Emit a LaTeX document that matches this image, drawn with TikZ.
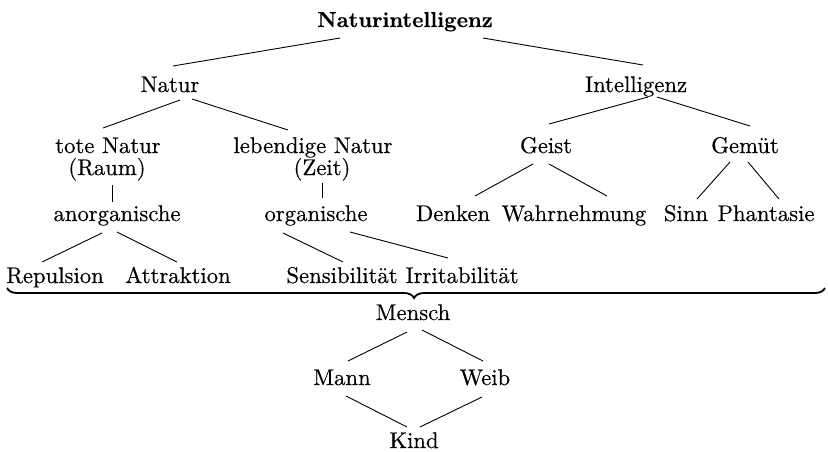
\documentclass[tikz,border=0pt]{standalone}
\usepackage{fontspec}
\newfontfamily\lblfont{lmroman10-regular}[Extension=.otf,FakeBold=0.4]
\newfontfamily\ttlfont{lmroman10-bold}[Extension=.otf,FakeBold=0.3]
\usetikzlibrary{decorations.pathreplacing,calc}
\begin{document}
\begin{tikzpicture}[x=1pt,y=-1pt,
  lbl/.style={anchor=base,inner sep=0pt,font=\lblfont\fontsize{22.7}{27}\selectfont},
  ttl/.style={anchor=base,inner sep=0pt,font=\ttlfont\fontsize{21.6}{26}\selectfont},
  conn/.style={line width=0.9pt},
  bracestyle/.style={decorate,decoration={brace,mirror,amplitude=10pt,aspect=0.4976},line width=1.8pt}]
\useasboundingbox (0,0) rectangle (828,451);
% nodes
\node[ttl] (ni) at (405,27) {Naturintelligenz};
\node[lbl] (natur) at (170,92) {Natur};
\node[lbl] (intel) at (636,92) {Intelligenz};
\node[lbl] (tote) at (108,153) {tote Natur};
\node[lbl] (raum) at (107,175) {(Raum)};
\node[lbl] (leb) at (313,153) {lebendige Natur};
\node[lbl] (zeit) at (322,175) {(Zeit)};
\node[lbl] (geist) at (546,153) {Geist};
\node[lbl] (gemuet) at (745,153) {Gemüt};
\node[lbl] (anorg) at (117,221) {anorganische};
\node[lbl] (org) at (316,221) {organische};
\node[lbl] (denken) at (453,221) {Denken};
\node[lbl] (wahr) at (574,221) {Wahrnehmung};
\node[lbl] (sinn) at (686,221) {Sinn};
\node[lbl] (phant) at (766,221) {Phantasie};
\node[lbl] (rep) at (55,283) {Repulsion};
\node[lbl] (attr) at (178,283) {Attraktion};
\node[lbl] (sens) at (342,283) {Sensibilität};
\node[lbl] (irr) at (462,283) {Irritabilität};
\node[lbl] (mensch) at (413,320) {Mensch};
\node[lbl] (mann) at (342,385) {Mann};
\node[lbl] (weib) at (485,385) {Weib};
\node[lbl] (kind) at (414,448) {Kind};
\coordinate (bl) at (7,288);
\coordinate (br) at (825,288);
% connectors
\draw[conn] ($(ni.base)+(-65,11)$) -- ($(natur.base)+(3,-26)$);
\draw[conn] ($(ni.base)+(78,11)$) -- ($(intel.base)+(7,-27)$);
\draw[conn] ($(natur.base)+(10,8)$) -- ($(tote.base)+(-5,-25)$);
\draw[conn] ($(natur.base)+(22,7)$) -- ($(leb.base)+(-25,-23)$);
\draw[conn] ($(intel.base)+(12,5)$) -- ($(geist.base)+(3,-29)$);
\draw[conn] ($(intel.base)+(21,5)$) -- ($(gemuet.base)+(5,-27)$);
\draw[conn] ($(raum.base)+(5,10)$) -- ($(anorg.base)+(-5,-19)$);
\draw[conn] ($(zeit.base)+(0,8)$) -- ($(org.base)+(6,-23)$);
\draw[conn] ($(anorg.base)+(-15,12)$) -- ($(rep.base)+(-13,-21)$);
\draw[conn] ($(anorg.base)+(0,11)$) -- ($(attr.base)+(-1,-21)$);
\draw[conn] ($(org.base)+(-33,12)$) -- ($(sens.base)+(1,-21)$);
\draw[conn] ($(org.base)+(34,11)$) -- ($(irr.base)+(-14,-25)$);
\draw[conn] ($(geist.base)+(-13,11)$) -- ($(denken.base)+(22,-25)$);
\draw[conn] ($(geist.base)+(3,11)$) -- ($(wahr.base)+(33,-25)$);
\draw[conn] ($(gemuet.base)+(-15,9)$) -- ($(sinn.base)+(11,-22)$);
\draw[conn] ($(gemuet.base)+(3,9)$) -- ($(phant.base)+(13,-22)$);
\draw[conn] ($(mensch.base)+(-6,12)$) -- ($(mann.base)+(6,-24)$);
\draw[conn] ($(mensch.base)+(9,10)$) -- ($(weib.base)+(-2,-24)$);
\draw[conn] ($(mann.base)+(4,11)$) -- ($(kind.base)+(-7,-21)$);
\draw[conn] ($(weib.base)+(-3,12)$) -- ($(kind.base)+(6,-21)$);
% brace
\draw[bracestyle] (bl) -- (br);
\end{tikzpicture}
\end{document}
